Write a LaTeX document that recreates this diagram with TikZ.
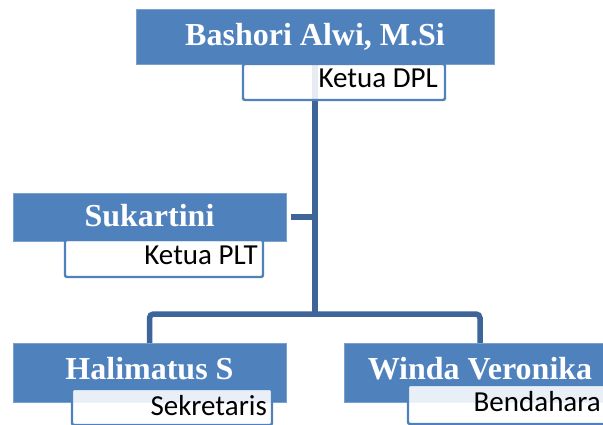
\documentclass[tikz,border=0pt]{standalone}
\usepackage{fontspec}
\setmainfont{Liberation Serif}
\newfontfamily\subfont{Carlito}
\definecolor{boxblue}{HTML}{4F81BD}
\definecolor{boxedge}{HTML}{7BA0CD}
\definecolor{linkblue}{HTML}{3E6599}
\tikzset{
  bluebox/.style={fill=boxblue, draw=boxedge, line width=0.8pt, inner sep=0pt,
    text=white, font=\bfseries\fontsize{32}{34}\selectfont},
  subbox/.style={fill=white, fill opacity=0.88, draw=boxblue, line width=2.4pt,
    rounded corners=2pt, inner sep=0pt},
  subtext/.style={font=\subfont\fontsize{29}{31}\selectfont, text=black, inner sep=0pt},
  conn/.style={draw=linkblue, line width=5.5pt}
}
\begin{document}
\begin{tikzpicture}[x=1pt,y=-1pt]
\clip (0,0) rectangle (603,425);
\fill[white] (0,0) rectangle (603,425);
% coordinates
\coordinate (j) at (315,314);
\coordinate (stub) at (291,217);
% connectors first (behind boxes)
\path (315,64) coordinate (topbot);
\draw[conn] (topbot) -- (j);
\draw[conn] (stub) -- (stub -| j);
\coordinate (halt) at (149.5,343);
\coordinate (wint) at (480,343);
\draw[conn, rounded corners=4pt] (halt) -- (halt |- j) -- (wint |- j) -- (wint);
% blue boxes
\node[bluebox, minimum width=358pt, minimum height=55pt] (top) at (315,36.5) {Bashori Alwi, M.Si};
\node[bluebox, minimum width=273pt, minimum height=48pt] (suk) at (149.5,217) {\raisebox{4pt}{Sukartini}};
\node[bluebox, minimum width=273pt, minimum height=59pt] (hal) at (149.5,372.5) {\raisebox{8pt}{Halimatus S}};
\node[bluebox, minimum width=272pt, minimum height=59pt] (win) at (480,372.5) {\raisebox{8pt}{Winda Veronika}};
% sub boxes
\node[subbox, minimum width=202pt, minimum height=36pt] (topsub) at (344,82) {};
\node[subtext, anchor=base east] (topsubt) at (438,88) {Ketua DPL};
\node[subbox, minimum width=198pt, minimum height=37pt] (suksub) at (164,258.5) {};
\node[subtext, anchor=base east] (suksubt) at (258,265) {Ketua PLT};
\node[subbox, minimum width=200pt, minimum height=36pt] (halsub) at (172,407) {};
\node[subtext, anchor=base east] (halsubt) at (267,415) {Sekretaris};
\node[subbox, minimum width=204pt, minimum height=39pt] (winsub) at (510,404.5) {};
\node[subtext, anchor=base east] (winsubt) at (601,411) {Bendahara};
\end{tikzpicture}
\end{document}
